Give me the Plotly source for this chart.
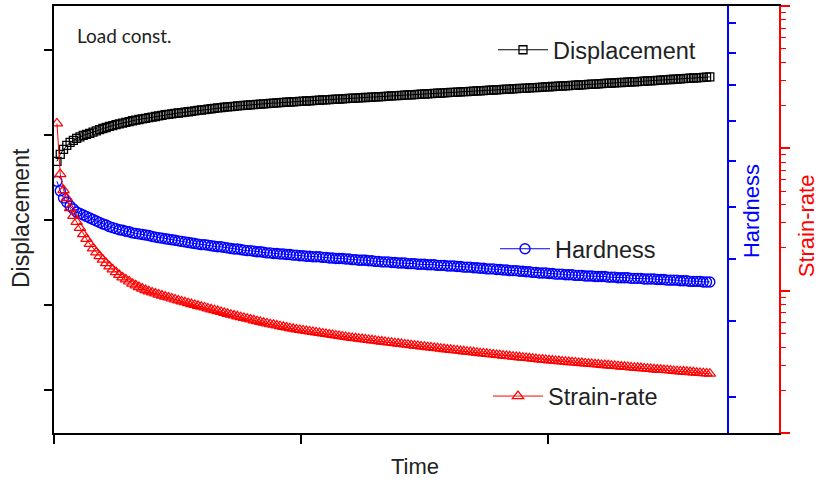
import numpy as np
import plotly.graph_objects as go

# ---------------- data ----------------
time = np.round(np.linspace(0.012, 2.655, 200), 4)

displacement = [
    368.9, 377.1, 382.9, 387.6, 391.1, 393.4, 395.8, 397.5, 399.3, 400.4,
    401.6, 403.1, 404.6, 406.0, 407.4, 408.6, 409.8, 410.9, 411.9, 412.9,
    413.8, 414.7, 415.6, 416.5, 417.3, 418.0, 418.7, 419.4, 420.1, 420.8,
    421.5, 422.2, 422.9, 423.6, 424.1, 424.6, 425.1, 425.6, 426.1, 426.6,
    427.1, 427.6, 428.1, 428.6, 429.1, 429.6, 430.1, 430.6, 431.1, 431.6,
    432.0, 432.4, 432.8, 433.2, 433.5, 433.9, 434.2, 434.6, 434.9, 435.2,
    435.5, 435.8, 436.1, 436.4, 436.7, 437.0, 437.2, 437.5, 437.8, 438.0,
    438.3, 438.5, 438.8, 439.0, 439.3, 439.5, 439.7, 440.0, 440.2, 440.4,
    440.6, 440.9, 441.1, 441.3, 441.6, 441.8, 442.0, 442.2, 442.5, 442.7,
    442.9, 443.1, 443.4, 443.6, 443.8, 444.0, 444.3, 444.5, 444.7, 444.9,
    445.2, 445.4, 445.6, 445.9, 446.1, 446.3, 446.5, 446.8, 447.0, 447.2,
    447.4, 447.7, 447.9, 448.1, 448.3, 448.6, 448.8, 449.0, 449.2, 449.5,
    449.7, 449.9, 450.1, 450.4, 450.6, 450.8, 451.0, 451.3, 451.5, 451.7,
    451.9, 452.2, 452.4, 452.6, 452.8, 453.1, 453.3, 453.5, 453.7, 454.0,
    454.2, 454.4, 454.6, 454.9, 455.1, 455.3, 455.5, 455.8, 456.0, 456.2,
    456.4, 456.7, 456.9, 457.1, 457.3, 457.6, 457.8, 458.0, 458.2, 458.5,
    458.7, 458.9, 459.1, 459.4, 459.6, 459.8, 460.0, 460.3, 460.5, 460.7,
    460.9, 461.2, 461.4, 461.6, 461.8, 462.1, 462.3, 462.5, 462.7, 463.0,
    463.2, 463.4, 463.7, 463.9, 464.2, 464.4, 464.7, 464.9, 465.2, 465.4,
    465.7, 465.9, 466.2, 466.4, 466.7, 466.9, 467.2, 467.4, 467.7, 468.0,
]

hardness = [
    7.54, 7.33, 7.18, 7.09, 7.01, 6.95, 6.89, 6.86, 6.83, 6.80,
    6.77, 6.74, 6.71, 6.68, 6.65, 6.63, 6.60, 6.58, 6.56, 6.54,
    6.53, 6.51, 6.50, 6.48, 6.47, 6.46, 6.45, 6.44, 6.43, 6.41,
    6.40, 6.39, 6.38, 6.37, 6.36, 6.35, 6.34, 6.33, 6.32, 6.31,
    6.30, 6.29, 6.28, 6.27, 6.26, 6.26, 6.25, 6.24, 6.23, 6.22,
    6.22, 6.21, 6.20, 6.19, 6.18, 6.18, 6.17, 6.16, 6.15, 6.15,
    6.14, 6.13, 6.13, 6.12, 6.11, 6.11, 6.10, 6.10, 6.09, 6.09,
    6.08, 6.08, 6.07, 6.07, 6.06, 6.06, 6.05, 6.05, 6.04, 6.04,
    6.04, 6.03, 6.03, 6.02, 6.02, 6.01, 6.01, 6.01, 6.00, 6.00,
    5.99, 5.99, 5.98, 5.98, 5.98, 5.97, 5.97, 5.96, 5.96, 5.95,
    5.95, 5.95, 5.94, 5.94, 5.93, 5.93, 5.93, 5.92, 5.92, 5.92,
    5.91, 5.91, 5.91, 5.90, 5.90, 5.90, 5.89, 5.89, 5.89, 5.88,
    5.88, 5.88, 5.87, 5.87, 5.86, 5.86, 5.86, 5.85, 5.85, 5.84,
    5.84, 5.83, 5.83, 5.83, 5.82, 5.82, 5.81, 5.81, 5.80, 5.80,
    5.80, 5.79, 5.79, 5.78, 5.78, 5.77, 5.77, 5.76, 5.76, 5.76,
    5.75, 5.75, 5.74, 5.74, 5.74, 5.73, 5.73, 5.73, 5.72, 5.72,
    5.72, 5.71, 5.71, 5.71, 5.70, 5.70, 5.70, 5.70, 5.69, 5.69,
    5.69, 5.68, 5.68, 5.68, 5.68, 5.67, 5.67, 5.67, 5.67, 5.66,
    5.66, 5.66, 5.66, 5.65, 5.65, 5.65, 5.64, 5.64, 5.64, 5.64,
    5.63, 5.63, 5.63, 5.62, 5.62, 5.62, 5.62, 5.61, 5.61, 5.61,
]

strain_rate = [
    149.6, 65.8, 50.9, 44.7, 38.0, 33.5, 30.4, 27.6, 25.0, 23.1,
    21.3, 19.8, 18.6, 17.5, 16.5, 15.6, 14.8, 14.1, 13.5, 12.9,
    12.4, 12.0, 11.6, 11.2, 10.9, 10.6, 10.35, 10.1, 9.90, 9.72,
    9.55, 9.39, 9.24, 9.09, 8.95, 8.81, 8.67, 8.54, 8.41, 8.29,
    8.17, 8.05, 7.94, 7.83, 7.72, 7.62, 7.51, 7.40, 7.29, 7.19,
    7.09, 6.98, 6.88, 6.78, 6.69, 6.60, 6.52, 6.43, 6.35, 6.27,
    6.19, 6.11, 6.03, 5.95, 5.88, 5.81, 5.76, 5.69, 5.63, 5.57,
    5.51, 5.45, 5.40, 5.34, 5.30, 5.25, 5.21, 5.17, 5.13, 5.09,
    5.05, 5.01, 4.97, 4.93, 4.89, 4.85, 4.81, 4.77, 4.73, 4.69,
    4.66, 4.63, 4.60, 4.57, 4.54, 4.51, 4.48, 4.45, 4.42, 4.39,
    4.36, 4.33, 4.31, 4.28, 4.25, 4.22, 4.19, 4.17, 4.14, 4.11,
    4.09, 4.06, 4.04, 4.01, 3.99, 3.96, 3.94, 3.91, 3.89, 3.86,
    3.84, 3.82, 3.80, 3.77, 3.75, 3.73, 3.71, 3.69, 3.67, 3.64,
    3.62, 3.60, 3.58, 3.56, 3.54, 3.52, 3.49, 3.48, 3.46, 3.44,
    3.42, 3.40, 3.38, 3.37, 3.35, 3.33, 3.31, 3.29, 3.28, 3.26,
    3.24, 3.23, 3.21, 3.20, 3.18, 3.17, 3.15, 3.14, 3.13, 3.11,
    3.10, 3.08, 3.07, 3.06, 3.04, 3.03, 3.01, 3.00, 2.99, 2.97,
    2.96, 2.95, 2.93, 2.92, 2.91, 2.89, 2.88, 2.87, 2.86, 2.84,
    2.83, 2.82, 2.80, 2.79, 2.78, 2.77, 2.76, 2.75, 2.73, 2.72,
    2.71, 2.70, 2.69, 2.68, 2.67, 2.65, 2.64, 2.63, 2.62, 2.61,
]

time_ticks = [0, 1, 2]
disp_ticks = [100, 200, 300, 400, 500]
hard_ticks = [4, 5, 6, 7, 8, 9, 10, 11, 12]
sr_major = [1, 10, 100, 1000]
sr_minor = [m * d for d in (1, 10, 100) for m in range(2, 10)]

# ---------------- style ----------------
FONT = "Liberation Sans, Arial, sans-serif"
BLACK, BLUE, RED = "#000000", "#0000ff", "#ff0000"
TXT = "#222222"

fig = go.Figure()
fig.add_trace(go.Scatter(
    x=time, y=displacement, name="Displacement", mode="lines+markers",
    line=dict(color=BLACK, width=1),
    marker=dict(symbol="square-open", size=8, color=BLACK, line=dict(width=1.3)),
    yaxis="y", legend="legend"))
fig.add_trace(go.Scatter(
    x=time, y=hardness, name="Hardness", mode="lines+markers",
    line=dict(color=BLUE, width=1),
    marker=dict(symbol="circle-open", size=10, color=BLUE, line=dict(width=1.4)),
    yaxis="y2", legend="legend2"))
fig.add_trace(go.Scatter(
    x=time, y=strain_rate, name="Strain-rate", mode="lines+markers",
    line=dict(color=RED, width=1),
    marker=dict(symbol="triangle-up-open", size=10, color=RED, line=dict(width=1.2)),
    yaxis="y3", legend="legend3"))

leg_common = dict(bgcolor="rgba(0,0,0,0)", borderwidth=0, itemwidth=50,
                  font=dict(family=FONT, size=23.5, color=TXT),
                  xanchor="left", yanchor="middle")

fig.update_layout(
    width=820, height=484,
    margin=dict(l=54, r=41, t=4, b=51),
    paper_bgcolor="white", plot_bgcolor="white",
    font=dict(family=FONT, color=TXT),
    showlegend=True,
    xaxis=dict(domain=[0, 1], range=[0, 2.935], tickvals=time_ticks,
               showticklabels=False, ticks="outside", ticklen=9, tickwidth=1.5,
               tickcolor=BLACK, showline=True, linecolor=BLACK, linewidth=1.5,
               mirror=True, showgrid=False, zeroline=False),
    yaxis=dict(range=[50, 551.2], tickvals=disp_ticks, showticklabels=False,
               ticks="outside", ticklen=8, tickwidth=1.5, tickcolor=BLACK,
               showline=True, linecolor=BLACK, linewidth=1.5,
               showgrid=False, zeroline=False),
    yaxis2=dict(type="log", range=[0.5564, 1.1008], overlaying="y",
                side="right", anchor="free", position=0.9297,
                tickvals=hard_ticks, showticklabels=False, ticks="outside",
                ticklen=7, tickwidth=1.5, tickcolor=BLUE,
                showline=True, linecolor=BLUE, linewidth=1.5,
                showgrid=False, zeroline=False),
    yaxis3=dict(type="log", range=[0, 3], overlaying="y", side="right",
                anchor="x", tickvals=sr_major, showticklabels=False,
                ticks="outside", ticklen=9, tickwidth=1.5, tickcolor=RED,
                minor=dict(tickvals=sr_minor, ticks="outside", ticklen=5,
                           tickwidth=1.2, tickcolor=RED, showgrid=False),
                showline=True, linecolor=RED, linewidth=1.5,
                showgrid=False, zeroline=False),
    legend=dict(x=0.6055, y=0.897, **leg_common),
    legend2=dict(x=0.6083, y=0.431, **leg_common),
    legend3=dict(x=0.5986, y=0.086, **leg_common),
    annotations=[
        dict(text="Load const.", xref="paper", yref="paper", x=0.029, y=0.932,
             xanchor="left", yanchor="middle", showarrow=False,
             font=dict(family="Lato, sans-serif", size=19, color=TXT)),
        dict(text="Displacement", xref="paper", yref="paper", x=-0.0455, y=0.5035,
             textangle=-90, xanchor="center", yanchor="middle", showarrow=False,
             font=dict(family=FONT, size=23, color=TXT)),
        dict(text="Time", xref="paper", yref="paper", x=0.498, y=-0.0793,
             xanchor="center", yanchor="middle", showarrow=False,
             font=dict(family=FONT, size=22, color=TXT)),
        dict(text="Hardness", xref="paper", yref="paper", x=0.9614, y=0.5198,
             textangle=-90, xanchor="center", yanchor="middle", showarrow=False,
             font=dict(family=FONT, size=22, color=BLUE)),
        dict(text="Strain-rate", xref="paper", yref="paper", x=1.039, y=0.4848,
             textangle=-90, xanchor="center", yanchor="middle", showarrow=False,
             font=dict(family=FONT, size=22, color=RED)),
    ],
)

fig.write_html("out.html")
